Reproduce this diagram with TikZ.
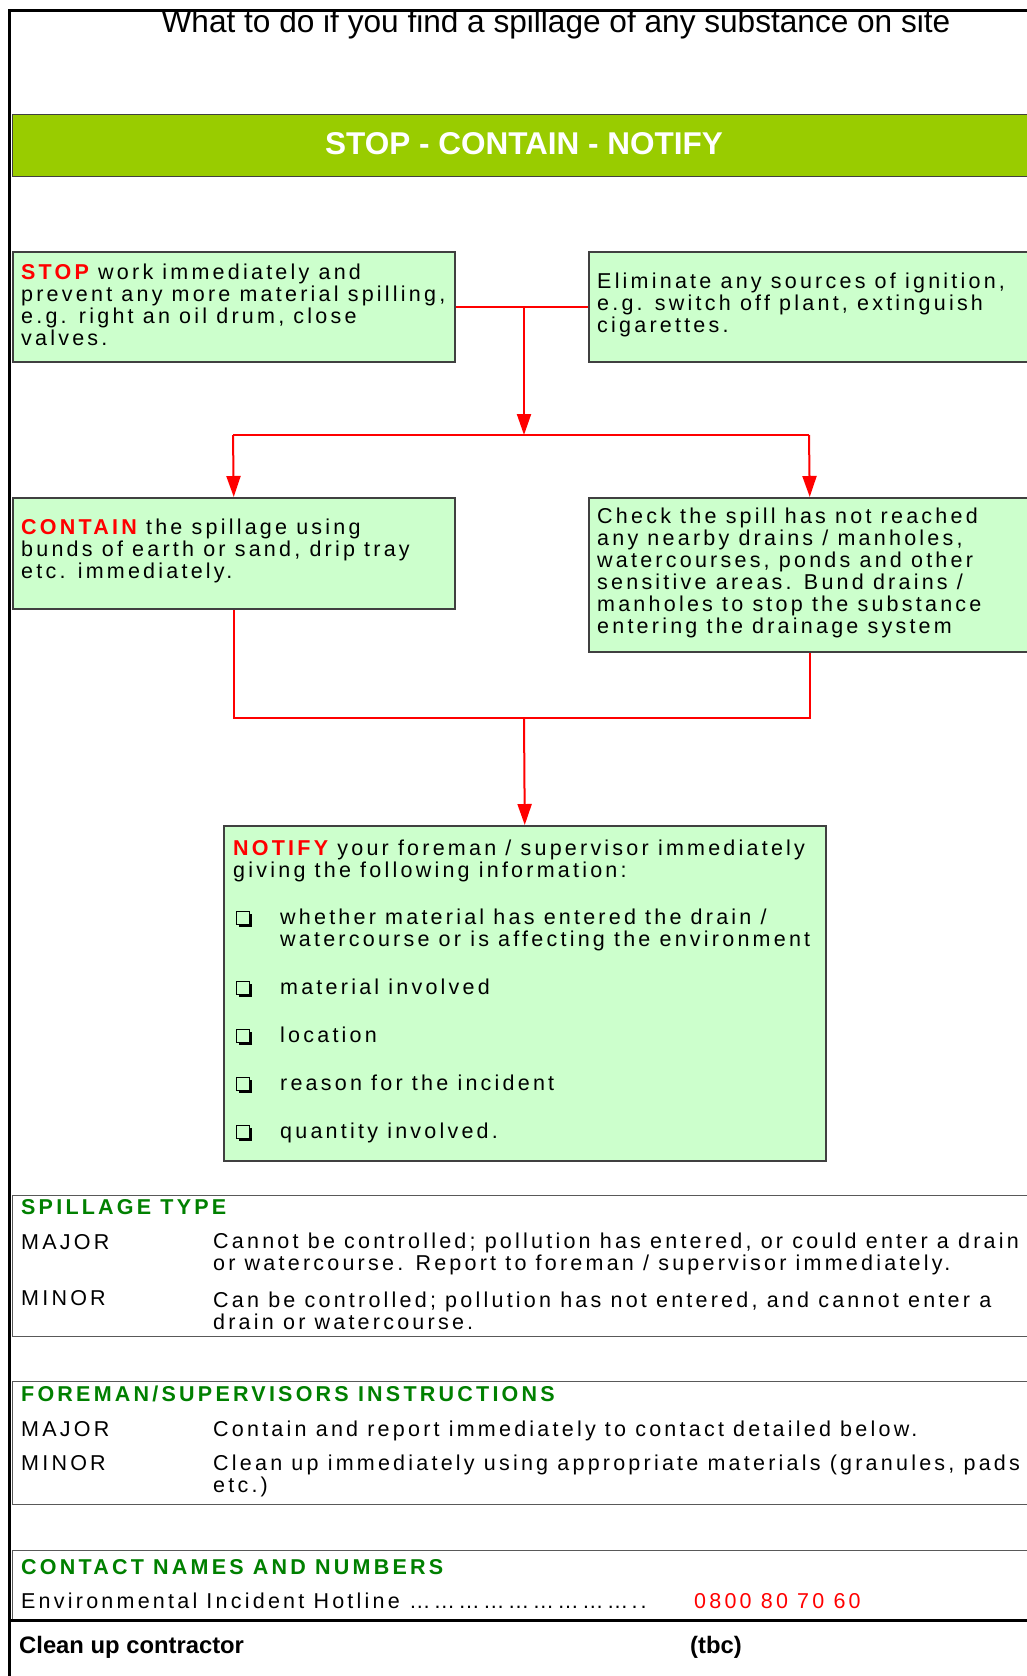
\documentclass[tikz,border=0pt]{standalone}
\usepackage{fontspec}
\setmainfont{Liberation Sans}
\newfontfamily\bodyfont[LetterSpace=15]{Liberation Sans}
\usetikzlibrary{arrows.meta,shadows}
\definecolor{bannergreen}{HTML}{99CC00}
\definecolor{boxgreen}{HTML}{CCFFCC}
\definecolor{hdgreen}{HTML}{008000}
\definecolor{alarm}{HTML}{FF0000}
\definecolor{edge}{HTML}{404040}
\begin{document}
\begin{tikzpicture}[x=1pt,y=-1pt,
  box/.style={draw=edge, line width=1.5pt, fill=boxgreen, anchor=north west, inner sep=0pt},
  tbl/.style={draw=gray!70!black, line width=1.3pt, anchor=north west, inner sep=0pt, minimum width=1030pt},
  txt/.style={font=\bodyfont\fontsize{21.5}{21.9}\selectfont, align=left, inner sep=0pt, anchor=west},
  line/.style={font=\bodyfont\fontsize{21.5}{21.9}\selectfont, inner sep=0pt, anchor=base west},
  head/.style={font=\bodyfont\bfseries\fontsize{21.5}{21.9}\selectfont, text=hdgreen, inner sep=0pt, anchor=base west},
  conn/.style={draw=alarm, line width=2pt},
  arr/.style={-{Triangle[length=21pt,width=14pt]}},
  chk/.style={draw=black, line width=1.5pt, fill=boxgreen, minimum size=13pt, inner sep=0pt,
    drop shadow={shadow xshift=2.5pt, shadow yshift=-2.5pt, opacity=1, fill=black}}
]
\useasboundingbox (0,0) rectangle (1026,1676);
\fill[white] (0,0) rectangle (1026,1676);

% outer frame
\draw[line width=3pt] (9,1676) -- (9,10) -- (1030,10);

% title
\node[font=\fontsize{31.6}{36}\selectfont, inner sep=0pt, anchor=base] (title) at (556,32) {What to do if you find a spillage of any substance on site};

% banner
\node[draw=edge, line width=1.2pt, fill=bannergreen, anchor=north west, minimum width=1030pt, minimum height=62pt, inner sep=0pt] (banner) at (12,114) {};
\node[font=\bfseries\fontsize{31.5}{36}\selectfont, text=white, inner sep=0pt, anchor=base] (bannertext) at (524,154) {STOP - CONTAIN - NOTIFY};

% flow boxes
\node[box, minimum width=442pt, minimum height=110pt] (stop) at (12,251) {};
\node[box, minimum width=442pt, minimum height=110pt] (elim) at (588,251) {};
\node[box, minimum width=442pt, minimum height=111pt] (contain) at (12,497) {};
\node[box, minimum width=442pt, minimum height=154pt] (check) at (588,497) {};
\node[box, minimum width=602pt, minimum height=335pt] (notify) at (223,825) {};

\node[txt] (stopT) at (21,305) {{\color{alarm}\bfseries STOP} work immediately and\\prevent any more material spilling,\\e.g. right an oil drum, close\\valves.};
\node[txt] (elimT) at (597,305) {Eliminate any sources of ignition,\\e.g. switch off plant, extinguish\\cigarettes.};
\node[txt] (containT) at (21,551) {{\color{alarm}\bfseries CONTAIN} the spillage using\\bunds of earth or sand, drip tray\\etc. immediately.};
\node[txt] (checkT) at (597,573) {Check the spill has not reached\\any nearby drains / manholes,\\watercourses, ponds and other\\sensitive areas. Bund drains /\\manholes to stop the substance\\entering the drainage system};

\node[txt] (notifyT) at (233,861) {{\color{alarm}\bfseries NOTIFY} your foreman / supervisor immediately\\giving the following information:};
\node[chk] (c1) at (243,918) {};
\node[chk] (c2) at (243,988) {};
\node[chk] (c3) at (243,1036) {};
\node[chk] (c4) at (243,1084) {};
\node[chk] (c5) at (243,1132) {};
\node[txt] (n1) at (280,930) {whether material has entered the drain /\\watercourse or is affecting the environment};
\node[line] (n2) at (280,994.5) {material involved};
\node[line] (n3) at (280,1042.5) {location};
\node[line] (n4) at (280,1090.5) {reason for the incident};
\node[line] (n5) at (280,1138.5) {quantity involved.};

% connectors
\coordinate (j1) at (524,306);
\coordinate (j2) at (524,435);
\coordinate (cl) at (233,435);
\coordinate (cr) at (809,435);
\coordinate (j3) at (524,718);
\draw[conn] (stop.east) -- (elim.west);
\draw[conn,arr] (j1) -- (j2);
\draw[conn] (cl) -- (cr);
\draw[conn,arr] (cl) -- (contain.north);
\draw[conn,arr] (cr) -- (check.north);
\draw[conn] (contain.south) |- (j3) -| (check.south);
\draw[conn,arr] (j3) -- (notify.north);

% spillage type table
\node[tbl, minimum height=141pt] (spill) at (12,1195) {};
\node[head] (spillH) at (21,1214.5) {SPILLAGE TYPE};
\node[line] (spillMa) at (21,1249.5) {MAJOR};
\node[txt] (spillMaT) at (213,1254) {Cannot be controlled; pollution has entered, or could enter a drain\\or watercourse. Report to foreman / supervisor immediately.};
\node[line] (spillMi) at (21,1305.5) {MINOR};
\node[txt] (spillMiT) at (213,1310.5) {Can be controlled; pollution has not entered, and cannot enter a\\drain or watercourse.};

% foreman table
\node[tbl, minimum height=123pt] (fore) at (12,1381) {};
\node[head] (foreH) at (21,1401.5) {FOREMAN/SUPERVISORS INSTRUCTIONS};
\node[line] (foreMa) at (21,1436.5) {MAJOR};
\node[line] (foreMaT) at (213,1436.5) {Contain and report immediately to contact detailed below.};
\node[line] (foreMi) at (21,1470.5) {MINOR};
\node[txt] (foreMiT) at (213,1475.5) {Clean up immediately using appropriate materials (granules, pads\\etc.)};

% contact table
\node[tbl, minimum height=70pt] (contact) at (12,1550) {};
\draw[line width=3pt] (8,1620) -- (1030,1620);
\node[head] (contactH) at (21,1574.5) {CONTACT NAMES AND NUMBERS};
\node[line] (hotline) at (21,1608.5) {Environmental Incident Hotline ………………………..};
\node[line, text=alarm] (phone) at (694,1608.5) {0800 80 70 60};

\node[font=\bfseries\fontsize{23.8}{28}\selectfont, inner sep=0pt, anchor=base west] (cleanup) at (19,1653) {Clean up contractor};
\node[font=\bfseries\fontsize{23.8}{28}\selectfont, inner sep=0pt, anchor=base west] (tbc) at (690,1653) {(tbc)};
\end{tikzpicture}
\end{document}
